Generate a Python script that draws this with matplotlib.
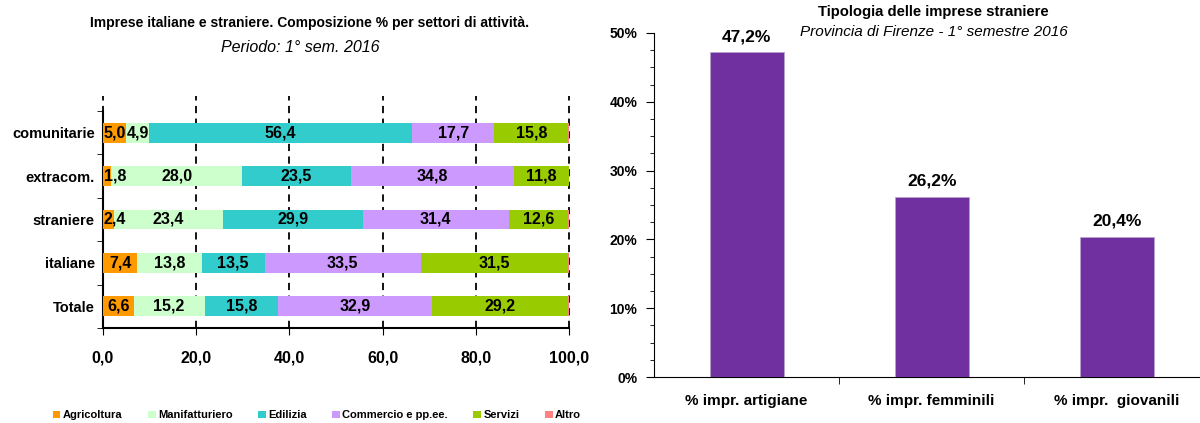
import matplotlib
matplotlib.use("Agg")
import matplotlib.pyplot as plt
import numpy as np
from matplotlib.ticker import MultipleLocator, FixedLocator

plt.rcParams['font.family'] = ['Liberation Sans', 'DejaVu Sans']

# left chart data
categories = ["comunitarie", "extracom.", "straniere", "italiane", "Totale"]
sectors = ["Agricoltura", "Manifatturiero", "Edilizia", "Commercio e pp.ee.", "Servizi", "Altro"]
agricoltura = [5.0, 1.8, 2.4, 7.4, 6.6]
manifatturiero = [4.9, 28.0, 23.4, 13.8, 15.2]
edilizia = [56.4, 23.5, 29.9, 13.5, 15.8]
commercio = [17.7, 34.8, 31.4, 33.5, 32.9]
servizi = [15.8, 11.8, 12.6, 31.5, 29.2]
altro = [0.2, 0.1, 0.3, 0.3, 0.3]
sector_colors = ["#FF9900", "#CCFFCC", "#33CCCC", "#CC99FF", "#99CC00", "#FF8080"]
xticks_left = [0, 20, 40, 60, 80, 100]

# right chart data
tipologie = ["% impr. artigiane", "% impr. femminili", "% impr.  giovanili"]
quote = [47.2, 26.2, 20.4]

fig = plt.figure(figsize=(12, 4.23), dpi=100)

# ---- left: stacked horizontal bars
ax1 = fig.add_axes([0.0858, 0.2246, 0.3884, 0.513])
series = [agricoltura, manifatturiero, edilizia, commercio, servizi, altro]
y = np.arange(len(categories))
left = np.zeros(len(categories))
for name, vals, col in zip(sectors, series, sector_colors):
    vals = np.array(vals)
    ax1.barh(y, vals, left=left, height=0.46, color=col, label=name,
             edgecolor="none", zorder=3)
    if name != "Altro":
        for yi, l, v in zip(y, left, vals):
            xt = l + v / 2
            if v < 3:
                xt = l + 2.6  # tiny segment, label spills right as in the original
            ax1.text(xt, yi, f"{v:.1f}".replace(".", ","), ha="center",
                     va="center", fontsize=11.5, fontweight="bold", zorder=4)
    left += vals

ax1.set_xlim(0, 100)
ax1.set_ylim(len(categories) - 0.5, -0.5)
ax1.set_yticks(y)
ax1.set_yticklabels(categories, fontsize=10.5, fontweight="bold")
ax1.tick_params(axis="y", which="major", length=0, pad=6)
ax1.yaxis.set_minor_locator(FixedLocator(np.arange(-0.5, len(categories), 1)))
ax1.tick_params(axis="y", which="minor", length=4, direction="out")
ax1.set_xticks(xticks_left)
ax1.set_xticklabels([f"{t:.1f}".replace(".", ",") for t in xticks_left],
                    fontsize=11.5, fontweight="bold")
ax1.tick_params(axis="x", length=5, pad=11)
for t in xticks_left:
    ax1.plot([t, t], [0, 1.07], transform=ax1.get_xaxis_transform(), color="black",
             linestyle=(0, (4, 3)), linewidth=1.3, clip_on=False, zorder=2)
ax1.spines["top"].set_visible(False)
ax1.spines["right"].set_visible(False)
ax1.spines["left"].set_linewidth(1.5)
ax1.spines["bottom"].set_linewidth(1.5)

fig.text(0.258, 0.945, "Imprese italiane e straniere. Composizione % per settori di attività.",
         ha="center", va="center", fontsize=10, fontweight="bold")
fig.text(0.25, 0.887, "Periodo: 1° sem. 2016", ha="center", va="center",
         fontsize=11.5, style="italic")

ax1.legend(loc="center", bbox_to_anchor=(0.264, 0.018), bbox_transform=fig.transFigure,
           ncol=6, frameon=False, handlelength=0.7, handleheight=0.7,
           handletextpad=0.2, columnspacing=2.3, prop={"weight": "bold", "size": 8})

# ---- right: vertical bars
ax2 = fig.add_axes([0.545, 0.1087, 0.455, 0.8133])
x = np.arange(len(tipologie))
ax2.bar(x, quote, width=0.4, color="#7030A0", edgecolor="#B9A3D0", linewidth=0.6, zorder=3)
for xi, v in zip(x, quote):
    ax2.text(xi, v + 1.2, f"{v:.1f}%".replace(".", ","), ha="center", va="bottom",
             fontsize=12.5, fontweight="bold")
ax2.set_xlim(-0.5, 2.45)
ax2.set_ylim(0, 50)
ax2.yaxis.set_major_locator(MultipleLocator(10))
ax2.yaxis.set_minor_locator(MultipleLocator(2.5))
ax2.set_yticklabels([f"{int(t)}%" for t in ax2.get_yticks()], fontsize=10, fontweight="bold")
ax2.tick_params(axis="y", which="major", length=6, pad=6)
ax2.tick_params(axis="y", which="minor", length=3)
ax2.set_xticks(x)
ax2.set_xticklabels(tipologie, fontsize=11, fontweight="bold")
ax2.tick_params(axis="x", which="major", length=0, pad=12)
ax2.xaxis.set_minor_locator(FixedLocator([0.5, 1.5]))
ax2.tick_params(axis="x", which="minor", length=5)
ax2.spines["top"].set_visible(False)
ax2.spines["right"].set_visible(False)

fig.text(0.778, 0.972, "Tipologia delle imprese straniere", ha="center", va="center",
         fontsize=10.7, fontweight="bold")
fig.text(0.778, 0.925, "Provincia di Firenze - 1° semestre 2016", ha="center", va="center",
         fontsize=11, style="italic")

fig.savefig("out.png", dpi=100)
